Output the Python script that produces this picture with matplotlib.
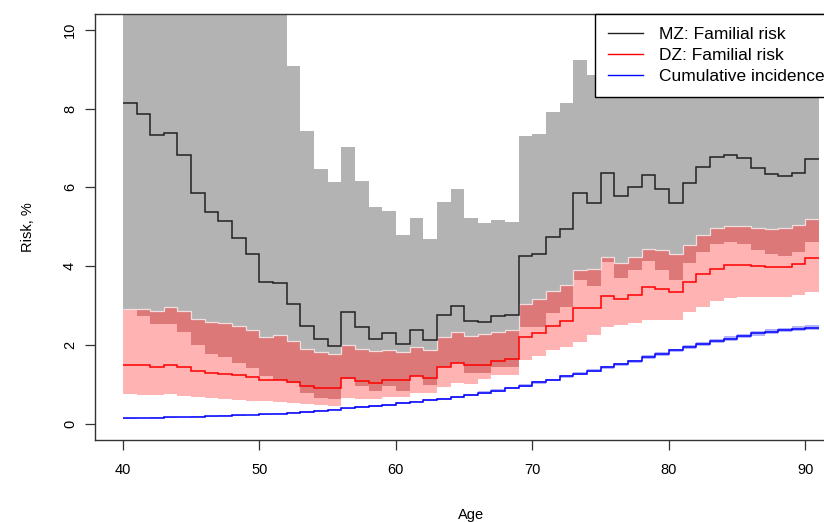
import numpy as np
import matplotlib
matplotlib.use("Agg")
import matplotlib.pyplot as plt
from matplotlib.lines import Line2D

plt.rcParams["font.family"] = ["Liberation Sans", "DejaVu Sans"]

# -----------------------------
# DATA (risk in %, one step per year of age)
# -----------------------------
age_edges = np.arange(40, 92)

mz_risk = [8.13, 7.85, 7.32, 7.37, 6.81, 5.86, 5.37, 5.14, 4.71, 4.31,
           3.59, 3.56, 3.05, 2.48, 2.14, 1.98, 2.83, 2.46, 2.16, 2.30,
           2.02, 2.38, 2.13, 2.75, 2.99, 2.60, 2.58, 2.73, 2.77, 4.25,
           4.32, 4.75, 4.94, 5.86, 5.60, 6.37, 5.78, 6.01, 6.32, 5.96,
           5.61, 6.11, 6.51, 6.77, 6.81, 6.75, 6.50, 6.33, 6.29, 6.36,
           6.73]
mz_upper = [11.0, 11.0, 11.0, 11.0, 11.0, 11.0, 11.0, 11.0, 11.0, 11.0,
            11.0, 11.0, 9.07, 7.42, 6.46, 6.14, 7.02, 6.17, 5.49, 5.40,
            4.79, 5.22, 4.68, 5.64, 5.97, 5.23, 5.10, 5.16, 5.11, 7.30,
            7.36, 7.92, 8.13, 9.22, 8.84, 9.0, 9.2, 9.4, 9.5, 9.4,
            9.3, 9.5, 9.8, 10.0, 10.1, 10.0, 9.8, 9.7, 9.6, 9.7,
            10.0]
mz_lower = [2.92, 2.73, 2.52, 2.52, 2.34, 1.99, 1.77, 1.69, 1.54, 1.41,
            1.20, 1.11, 1.03, 0.78, 0.66, 0.63, 1.13, 0.95, 0.84, 0.95,
            0.84, 1.20, 0.98, 1.43, 1.55, 1.30, 1.30, 1.45, 1.45, 2.46,
            2.46, 2.80, 2.97, 3.65, 3.49, 4.11, 3.71, 3.90, 4.13, 3.90,
            3.66, 4.07, 4.36, 4.56, 4.61, 4.57, 4.42, 4.30, 4.27, 4.35,
            4.61]

dz_risk = [1.48, 1.48, 1.44, 1.49, 1.44, 1.34, 1.29, 1.26, 1.23, 1.18,
           1.11, 1.12, 1.06, 0.96, 0.90, 0.90, 1.15, 1.09, 1.03, 1.11,
           1.10, 1.22, 1.17, 1.43, 1.55, 1.48, 1.49, 1.59, 1.64, 2.19,
           2.30, 2.49, 2.62, 2.95, 2.93, 3.25, 3.16, 3.28, 3.46, 3.41,
           3.35, 3.60, 3.80, 3.92, 4.02, 4.04, 4.01, 3.99, 3.99, 4.05,
           4.21]
dz_upper = [2.92, 2.92, 2.87, 2.96, 2.87, 2.65, 2.59, 2.57, 2.48, 2.38,
            2.20, 2.25, 2.10, 1.90, 1.81, 1.78, 1.99, 1.91, 1.85, 1.87,
            1.81, 1.94, 1.88, 2.19, 2.32, 2.22, 2.28, 2.34, 2.38, 3.04,
            3.16, 3.38, 3.51, 3.90, 3.92, 4.22, 4.08, 4.22, 4.44, 4.41,
            4.30, 4.54, 4.78, 4.98, 5.03, 5.03, 4.97, 4.95, 4.97, 5.04,
            5.19]
dz_lower = [0.76, 0.74, 0.73, 0.75, 0.71, 0.68, 0.65, 0.63, 0.61, 0.59,
            0.57, 0.54, 0.53, 0.51, 0.48, 0.46, 0.65, 0.63, 0.63, 0.69,
            0.68, 0.78, 0.77, 0.93, 1.03, 1.00, 1.13, 1.24, 1.24, 1.62,
            1.73, 1.86, 1.96, 2.07, 2.25, 2.46, 2.51, 2.57, 2.63, 2.63,
            2.63, 2.84, 2.97, 3.12, 3.18, 3.22, 3.22, 3.22, 3.22, 3.26,
            3.35]

cum_inc = [0.14, 0.145, 0.15, 0.16, 0.17, 0.18, 0.19, 0.20, 0.21, 0.22,
           0.24, 0.26, 0.28, 0.30, 0.33, 0.36, 0.39, 0.42, 0.45, 0.48,
           0.52, 0.56, 0.60, 0.64, 0.69, 0.74, 0.79, 0.84, 0.90, 0.97,
           1.05, 1.11, 1.20, 1.27, 1.35, 1.43, 1.51, 1.59, 1.69, 1.77,
           1.86, 1.96, 2.03, 2.10, 2.16, 2.23, 2.30, 2.34, 2.38, 2.41,
           2.44]
cum_inc_halfwidth = [0.01, 0.01, 0.01, 0.01, 0.01, 0.01, 0.01, 0.01, 0.01, 0.01,
                     0.015, 0.015, 0.015, 0.015, 0.015, 0.02, 0.02, 0.02, 0.02, 0.02,
                     0.02, 0.02, 0.025, 0.025, 0.025, 0.025, 0.03, 0.03, 0.03, 0.03,
                     0.03, 0.035, 0.035, 0.035, 0.035, 0.04, 0.04, 0.04, 0.045, 0.045,
                     0.045, 0.05, 0.05, 0.05, 0.055, 0.055, 0.06, 0.06, 0.06, 0.065,
                     0.065]

legend_labels = ["MZ: Familial risk", "DZ: Familial risk", "Cumulative incidence"]
legend_colors = ["#222222", "red", "blue"]


# -----------------------------
# DRAW
# -----------------------------
fig = plt.figure(figsize=(8.24, 5.22), dpi=100)
ax = fig.add_axes([0.1153, 0.158, 0.9126, 0.8152])

# MZ confidence band
ax.stairs(mz_upper, age_edges, baseline=mz_lower, fill=True,
          color="#b3b3b3", lw=0, zorder=1)
# DZ confidence band
ax.stairs(dz_upper, age_edges, baseline=dz_lower, fill=True,
          color="#ffb3b3", lw=0, zorder=2)
# where both bands overlap
ov_top = np.minimum(dz_upper, mz_upper)
ov_bot = np.minimum(np.maximum(dz_lower, mz_lower), ov_top)
ax.stairs(ov_top, age_edges, baseline=ov_bot, fill=True,
          color="#dd7878", lw=0, zorder=2)
ax.stairs(dz_upper, age_edges, baseline=None, color="#f0dede", lw=0.9, zorder=3)

# cumulative incidence band
inc = np.array(cum_inc)
hw = np.array(cum_inc_halfwidth)
ax.stairs(inc + hw, age_edges, baseline=inc - hw, fill=True,
          color=(0, 0, 1, 0.3), lw=0, zorder=3)

ax.stairs(mz_risk, age_edges, baseline=None, color="#222222", lw=1.1, zorder=4)
ax.stairs(dz_risk, age_edges, baseline=None, color="red", lw=1.1, zorder=4)
ax.stairs(cum_inc, age_edges, baseline=None, color="blue", lw=1.1, zorder=4)

ax.set_xlim(37.96, 93.04)
ax.set_ylim(-0.4, 10.4)
ax.set_xticks([40, 50, 60, 70, 80, 90])
ax.set_yticks([0, 2, 4, 6, 8, 10])
ax.set_yticklabels(["0", "2", "4", "6", "8", "10"], rotation=90, va="center")
ax.tick_params(direction="out", length=7, width=0.9, labelsize=10.5,
               color="#333333")
ax.tick_params(axis="x", pad=10)
ax.tick_params(axis="y", pad=6)
for side in ["left", "bottom", "top", "right"]:
    ax.spines[side].set_color("#333333")
    ax.spines[side].set_linewidth(1.0)

ax.set_xlabel("Age", fontsize=10.5, labelpad=22)
ax.set_ylabel("Risk, %", fontsize=10.5, labelpad=20)

handles = [Line2D([0], [0], color=c, lw=1.0) for c in legend_colors]
leg = ax.legend(handles, legend_labels, loc="upper left",
                bbox_to_anchor=(0.665, 1.0), borderaxespad=0,
                fancybox=False, framealpha=1, edgecolor="black",
                fontsize=12.5, handlelength=2.0, handletextpad=0.95,
                borderpad=0.75, labelspacing=0.32)
leg.get_frame().set_linewidth(1.0)
leg.set_zorder(10)

fig.savefig("out.png", dpi=100)
